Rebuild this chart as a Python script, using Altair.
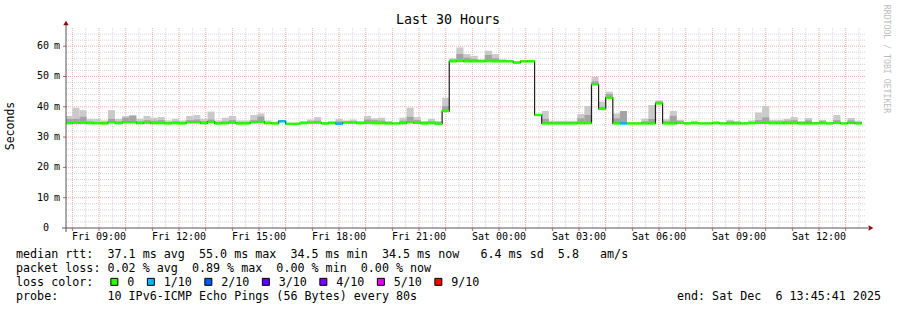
import altair as alt
import pandas as pd

# ---------------- data ----------------
# time axis in hours since Fri 00:00
window_start_h = 7 + 45 / 60 + 41 / 3600      # Fri 07:45:41
window_end_h = window_start_h + 30             # Sat 13:45:41
step_minutes = 16                              # RRD consolidation step (12 x 80 s)
first_slot = 29                                # first 16-min slot shown (Fri 07:44)

median_ms = [
    34.6, 34.7, 34.7, 34.6, 34.6, 34.5, 34.9, 34.6, 34.9, 34.9,
    34.6, 34.8, 34.6, 34.6, 34.5, 34.6, 34.5, 34.9, 34.9, 34.6,
    35.0, 34.5, 34.6, 34.8, 34.5, 34.5, 34.9, 35.0, 34.6, 34.5,
    35.2, 34.4, 34.4, 34.6, 34.8, 34.8, 34.5, 34.6, 34.4, 34.8,
    34.8, 34.6, 34.7, 34.6, 34.6, 34.5, 34.5, 34.6, 34.9, 34.7,
    34.5, 34.6, 34.4, 38.6, 55.0, 55.1, 55.0, 55.0, 55.0, 55.1,
    55.0, 55.0, 55.0, 54.6, 55.0, 55.0, 37.3, 34.5, 34.5, 34.5,
    34.5, 34.5, 34.6, 34.6, 47.4, 39.3, 43.0, 34.5, 34.5, 34.5,
    34.5, 34.5, 34.5, 41.1, 34.5, 34.5, 34.7, 34.5, 34.6, 34.5,
    34.5, 34.6, 34.5, 34.5, 34.5, 34.5, 34.6, 34.7, 34.7, 34.6,
    34.6, 34.6, 34.6, 34.5, 34.5, 34.5, 34.6, 34.5, 34.7, 34.5,
    34.7, 34.5,
]
max_ms = [
    37.0, 39.7, 38.9, 36.0, 36.0, 35.5, 38.9, 36.0, 37.0, 37.3,
    36.0, 37.0, 36.4, 36.6, 35.5, 36.0, 35.5, 37.0, 37.3, 36.0,
    38.4, 35.5, 36.4, 37.0, 35.5, 35.5, 37.3, 37.8, 35.5, 35.1,
    35.5, 34.6, 34.6, 35.3, 35.8, 36.6, 34.6, 35.3, 36.0, 35.5,
    35.8, 35.3, 37.0, 36.2, 36.4, 35.3, 34.6, 36.4, 39.7, 36.6,
    35.3, 36.0, 35.3, 43.0, 56.0, 59.6, 57.4, 56.8, 55.7, 58.5,
    57.4, 55.7, 55.5, 55.0, 55.0, 55.0, 37.3, 38.6, 35.4, 35.4,
    35.4, 35.4, 37.6, 40.3, 49.9, 41.7, 45.0, 37.8, 38.6, 34.5,
    34.5, 36.1, 40.6, 42.1, 35.9, 38.6, 35.7, 34.7, 35.4, 34.5,
    34.5, 35.3, 34.5, 35.7, 35.3, 34.6, 35.5, 38.1, 40.3, 35.7,
    35.7, 36.0, 36.6, 35.3, 36.3, 35.0, 35.7, 34.5, 37.3, 34.5,
    36.3, 35.4,
]
p9_ms = [
    36.0, 36.0, 36.7, 35.2, 35.0, 34.9, 36.0, 35.2, 36.4, 37.0,
    35.2, 35.6, 35.4, 35.6, 34.9, 35.2, 34.9, 35.6, 35.8, 35.2,
    35.8, 34.9, 35.2, 35.6, 34.9, 34.9, 35.6, 36.8, 35.0, 34.8,
    35.4, 34.6, 34.6, 35.0, 35.2, 35.4, 34.6, 35.0, 35.2, 35.1,
    35.2, 35.0, 35.8, 35.6, 35.4, 35.0, 34.6, 35.4, 36.7, 35.6,
    35.0, 35.2, 35.0, 40.2, 55.6, 57.4, 56.2, 55.8, 55.4, 57.1,
    56.0, 55.4, 55.3, 54.8, 55.3, 55.3, 37.3, 36.0, 35.0, 35.0,
    35.0, 35.0, 36.2, 37.3, 48.4, 40.0, 44.2, 36.2, 38.6, 34.5,
    34.5, 35.2, 36.0, 41.8, 35.2, 37.0, 35.2, 34.7, 35.0, 34.5,
    34.5, 34.9, 34.5, 35.2, 34.9, 34.6, 35.0, 35.6, 36.5, 35.2,
    35.2, 35.4, 35.6, 34.9, 35.5, 34.8, 35.3, 34.5, 35.6, 34.5,
    35.5, 35.0,
]
# steps with packet loss (index -> loss class); all others "0"
loss_steps = {30: "1/10", 38: "1/10", 78: "1/10"}

loss_labels = ["0", "1/10", "2/10", "3/10", "4/10", "5/10", "9/10"]
loss_colors = ["#26ff00", "#00b8ff", "#0059ff", "#5e00ff", "#7e00ff", "#dd00ff", "#ff0000"]

x_tick_hours = [9, 12, 15, 18, 21, 24, 27, 30, 33, 36]
x_tick_labels = ["Fri 09:00", "Fri 12:00", "Fri 15:00", "Fri 18:00", "Fri 21:00",
                 "Sat 00:00", "Sat 03:00", "Sat 06:00", "Sat 09:00", "Sat 12:00"]
y_tick_values = [0, 10, 20, 30, 40, 50, 60]
y_tick_numbers = ["0", "10", "20", "30", "40", "50", "60"]

legend_lines = [
    "median rtt:  37.1 ms avg  55.0 ms max  34.5 ms min  34.5 ms now   6.4 ms sd  5.8   am/s",
    "packet loss: 0.02 % avg  0.89 % max  0.00 % min  0.00 % now",
    "loss color:",
    "probe:       10 IPv6-ICMP Echo Pings (56 Bytes) every 80s",
]
end_text = "end: Sat Dec  6 13:45:41 2025"
title_text = "Last 30 Hours"
y_title = "Seconds"
watermark = "RRDTOOL / TOBI OETIKER"

# ---------------- tables ----------------
FONT = "DejaVu Sans Mono"
W, H = 800, 200
Y_MAX = 66

rows = []
for i, m in enumerate(median_ms):
    slot = first_slot + i
    t0 = max(window_start_h, slot * step_minutes / 60)
    t1 = (slot + 1) * step_minutes / 60
    rows.append(dict(t0=t0, t1=t1, m=m, mx=max_ms[i], p9=p9_ms[i],
                     mlo=m - 0.4, mhi=m + 0.4, loss=loss_steps.get(i, "0")))
steps = pd.DataFrame(rows)
line_pts = pd.DataFrame({"t": list(steps.t0) + [steps.t1.iloc[-1]],
                         "m": list(steps.m) + [steps.m.iloc[-1]]})

xs = alt.Scale(domain=[window_start_h, window_end_h], nice=False, zero=False)
ys = alt.Scale(domain=[0, Y_MAX], nice=False, zero=True)

first_hour = 8
last_hour = 37
minor_x = pd.DataFrame({"h": [h + 0.5 for h in range(7, last_hour + 1)
                              if window_start_h < h + 0.5 < window_end_h]})
major_x = pd.DataFrame({"h": list(range(first_hour, last_hour + 1))})
minor_y = pd.DataFrame({"v": [v for v in range(2, Y_MAX, 2) if v % 10]})
major_y = pd.DataFrame({"v": [v for v in y_tick_values if v > 0]})

GRID = "#d6d6d6"
MGRID = "#f5a9a9"

def vrule(df, color, dash, y0=0, y1=H):
    return alt.Chart(df).mark_rule(color=color, strokeDash=dash, strokeWidth=1).encode(
        x=alt.X("h:Q", scale=xs, axis=None), y=alt.value(y0), y2=alt.value(y1))

def hrule(df, color, dash, x0=0, x1=W):
    return alt.Chart(df).mark_rule(color=color, strokeDash=dash, strokeWidth=1).encode(
        y=alt.Y("v:Q", scale=ys, axis=None), x=alt.value(x0), x2=alt.value(x1))

layers = [
    vrule(minor_x, GRID, [1, 1]),
    hrule(minor_y, GRID, [1, 1]),
    vrule(major_x, MGRID, [1, 1]),
    hrule(major_y, MGRID, [1, 1]),
    # ticks below x axis / left of y axis
    vrule(major_x, "#d06060", [1, 0], H, H + 3),
    hrule(major_y, "#d06060", [1, 0], -3, 0),
]

X0 = alt.X("t0:Q", scale=xs, axis=None)
X1 = alt.X2("t1:Q")
smoke_light = alt.Chart(steps).mark_rect(color="#cacaca").encode(
    x=X0, x2=X1, y=alt.Y("m:Q", scale=ys, axis=None), y2="mx:Q")
smoke_mid = alt.Chart(steps).mark_rect(color="#a4a4a4").encode(
    x=X0, x2=X1, y=alt.Y("m:Q", scale=ys, axis=None), y2="p9:Q")
med_line = alt.Chart(line_pts).mark_line(color="#202020", strokeWidth=1.2,
                                         interpolate="step-after").encode(
    x=alt.X("t:Q", scale=xs, axis=None), y=alt.Y("m:Q", scale=ys, axis=None))
med_mark = alt.Chart(steps).mark_rect().encode(
    x=X0, x2=X1, y=alt.Y("mlo:Q", scale=ys, axis=None), y2="mhi:Q",
    color=alt.Color("loss:N", scale=alt.Scale(domain=loss_labels, range=loss_colors),
                    legend=alt.Legend(title=None, orient="none", legendX=42.5, legendY=248,
                                      direction="horizontal", symbolType="square",
                                      symbolSize=49, symbolStrokeColor="black",
                                      symbolStrokeWidth=1, symbolOpacity=1,
                                      labelFont=FONT, labelFontSize=11.7,
                                      labelColor="black", labelOffset=7,
                                      columnPadding=10.5, padding=0,
                                      gridAlign="none")))
layers += [smoke_light, smoke_mid, med_line, med_mark]

one = pd.DataFrame({"k": [0]})
AX = "#555555"
ARROW = "#8b1010"
layers += [
    alt.Chart(one).mark_rule(color=AX, strokeWidth=1).encode(
        x=alt.value(-4), x2=alt.value(W + 2), y=alt.value(H)),
    alt.Chart(one).mark_rule(color=AX, strokeWidth=1).encode(
        x=alt.value(0), y=alt.value(H + 4), y2=alt.value(-3)),
    alt.Chart(one).mark_point(shape="triangle-up", filled=True, color=ARROW,
                              size=30, opacity=1).encode(x=alt.value(0), y=alt.value(-5)),
    alt.Chart(one).mark_point(shape="triangle-right", filled=True, color=ARROW,
                              size=30, opacity=1).encode(x=alt.value(W + 5), y=alt.value(H)),
]

xt = pd.DataFrame({"h": x_tick_hours, "lab": x_tick_labels})
yt = pd.DataFrame({"v": y_tick_values, "lab": y_tick_numbers})
layers += [
    alt.Chart(xt).mark_text(font=FONT, fontSize=10, color="black", align="center",
                            baseline="alphabetic").encode(
        x=alt.X("h:Q", scale=xs, axis=None), y=alt.value(H + 12), text="lab:N"),
    alt.Chart(yt).mark_text(font=FONT, fontSize=10, color="black", align="right",
                            baseline="middle").encode(
        y=alt.Y("v:Q", scale=ys, axis=None), x=alt.value(-17), text="lab:N"),
    alt.Chart(yt[yt.v > 0]).mark_text(font=FONT, fontSize=10, color="black", align="left",
                                      baseline="middle").encode(
        y=alt.Y("v:Q", scale=ys, axis=None), x=alt.value(-12), text=alt.value("m")),
]

NB = "\u00a0"
def txt(s, x, y, size=11.7, align="left", angle=0, color="black"):
    return alt.Chart(one).mark_text(font=FONT, fontSize=size, color=color, align=align,
                                    baseline="alphabetic" if angle == 0 else "middle",
                                    angle=angle, text=s.replace(" ", NB)).encode(
        x=alt.value(x), y=alt.value(y))

for j, line in enumerate(legend_lines):
    layers.append(txt(line, -50, 230 + 14 * j))
layers += [
    txt(end_text, 815, 272, align="right"),
    txt(title_text, 382, -4, size=13.3, align="center"),
    txt(y_title, -55, 98, size=11.5, align="center", angle=270),
    txt(watermark, 820, 31, size=8.2, align="center", angle=90, color="#bdbdbd"),
]

chart = alt.layer(*layers).properties(
    width=W, height=H,
    padding={"left": 66, "top": 28, "right": 31, "bottom": 82},
    autosize=alt.AutoSizeParams(type="none"),
    background="white",
).configure_view(strokeWidth=0)

chart.save("out.html", embed_options={"renderer": "svg", "actions": False})
